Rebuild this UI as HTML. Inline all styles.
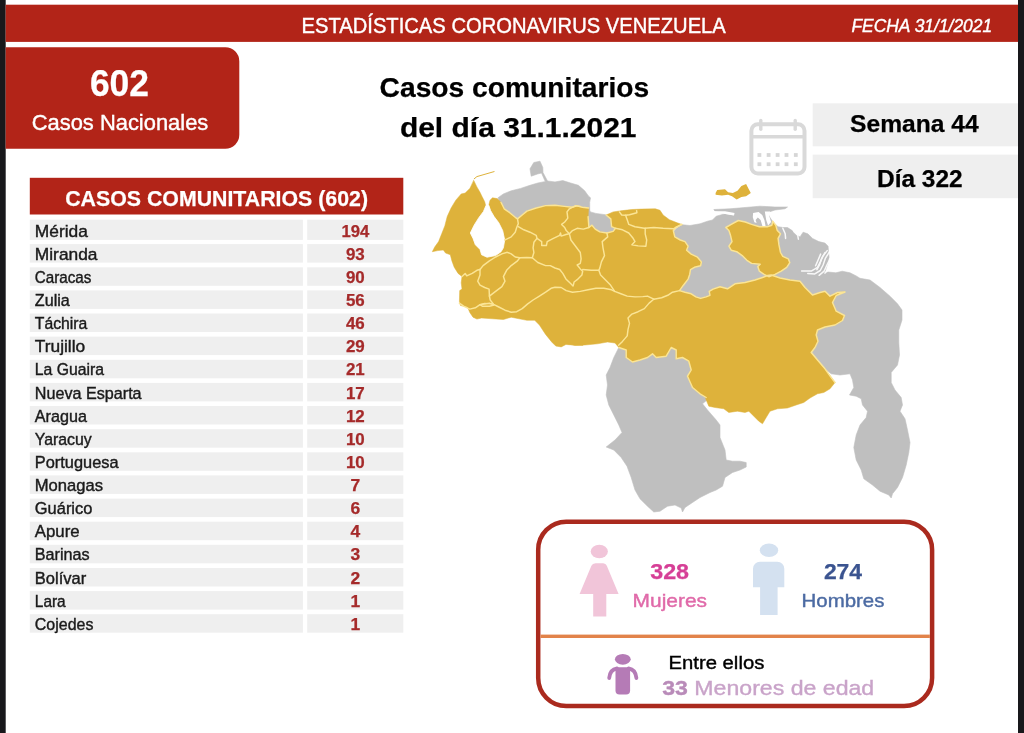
<!DOCTYPE html>
<html lang="es"><head><meta charset="utf-8"><title>Estadísticas Coronavirus Venezuela</title>
<style>
html,body{margin:0;padding:0;background:#fff;}
body{width:1024px;height:733px;overflow:hidden;}
svg{display:block;font-family:'Liberation Sans', Arial, sans-serif;}
</style></head><body>
<svg width="1024" height="733" viewBox="0 0 1024 733">
<rect x="0" y="0" width="1024" height="733" fill="#ffffff"/>
<rect x="0" y="0" width="5.7" height="733" fill="#18181b"/>
<rect x="1018" y="0" width="6" height="733" fill="#18181b"/>
<rect x="5.7" y="4.7" width="1012.3" height="37.2" fill="#b22418"/>
<text x="301.5" y="33.0" font-size="21.2" fill="#ffffff" stroke="#ffffff" stroke-width="0.4" textLength="424.3" lengthAdjust="spacingAndGlyphs">ESTADÍSTICAS CORONAVIRUS VENEZUELA</text>
<text x="851.4" y="31.9" font-size="18.3" fill="#ffffff" stroke="#ffffff" stroke-width="0.4" font-style="italic" textLength="140.8" lengthAdjust="spacingAndGlyphs">FECHA 31/1/2021</text>
<path d="M5.7 47.2H225.3a14 14 0 0 1 14 14V134.8a14 14 0 0 1 -14 14H5.7Z" fill="#b22418"/>
<text x="89.9" y="96.0" font-size="36.2" fill="#ffffff" stroke="#ffffff" stroke-width="0.25" font-weight="bold" textLength="59.1" lengthAdjust="spacingAndGlyphs">602</text>
<text x="31.7" y="130.1" font-size="22.0" fill="#ffffff" stroke="#ffffff" stroke-width="0.4" textLength="176.6" lengthAdjust="spacingAndGlyphs">Casos Nacionales</text>
<text x="379.6" y="96.9" font-size="27.8" fill="#000000" stroke="#000000" stroke-width="0.25" font-weight="bold" textLength="269.6" lengthAdjust="spacingAndGlyphs">Casos comunitarios</text>
<text x="399.9" y="137.4" font-size="27.8" fill="#000000" stroke="#000000" stroke-width="0.25" font-weight="bold" textLength="236.6" lengthAdjust="spacingAndGlyphs">del día 31.1.2021</text>
<rect x="812.7" y="103.3" width="205.3" height="43" fill="#efefef"/>
<rect x="812.7" y="154.6" width="205.3" height="43.6" fill="#efefef"/>
<text x="850.1" y="131.9" font-size="24.6" fill="#000000" stroke="#000000" stroke-width="0.25" font-weight="bold" textLength="128.6" lengthAdjust="spacingAndGlyphs">Semana 44</text>
<text x="877.0" y="187.1" font-size="24.6" fill="#000000" stroke="#000000" stroke-width="0.25" font-weight="bold" textLength="85.7" lengthAdjust="spacingAndGlyphs">Día 322</text>
<g fill="none" stroke="#d9d9d9" stroke-width="4"><rect x="751.4" y="124.3" width="53.1" height="49.2" rx="6.5" ry="6.5"/><line x1="751.4" y1="136.8" x2="804.5" y2="136.8" stroke-width="3.6"/><line x1="760.8" y1="120.4" x2="760.8" y2="129.2" stroke-width="3.4" stroke-linecap="round"/><line x1="795.2" y1="120.4" x2="795.2" y2="129.2" stroke-width="3.4" stroke-linecap="round"/></g>
<g fill="#d6d6d6"><rect x="757.5" y="153.1" width="3.8" height="3.8"/><rect x="766.7" y="153.1" width="3.8" height="3.8"/><rect x="775.7" y="153.1" width="3.8" height="3.8"/><rect x="784.6" y="153.1" width="3.8" height="3.8"/><rect x="793.9" y="153.1" width="3.8" height="3.8"/><rect x="757.5" y="162.3" width="3.8" height="3.8"/><rect x="766.7" y="162.3" width="3.8" height="3.8"/><rect x="775.7" y="162.3" width="3.8" height="3.8"/><rect x="784.6" y="162.3" width="3.8" height="3.8"/><rect x="793.9" y="162.3" width="3.8" height="3.8"/></g>
<rect x="29.8" y="177.8" width="373.5" height="36.7" fill="#b22418"/>
<text x="65.2" y="205.7" font-size="22.3" fill="#ffffff" stroke="#ffffff" stroke-width="0.25" font-weight="bold" textLength="302.8" lengthAdjust="spacingAndGlyphs">CASOS COMUNITARIOS (602)</text>
<g fill="#efefef"><rect x="29.8" y="219.7" width="273.1" height="20.2"/><rect x="307.2" y="219.7" width="96.1" height="20.2"/><rect x="29.8" y="244.1" width="273.1" height="18.5"/><rect x="307.2" y="244.1" width="96.1" height="18.5"/><rect x="29.8" y="267.3" width="273.1" height="18.5"/><rect x="307.2" y="267.3" width="96.1" height="18.5"/><rect x="29.8" y="290.4" width="273.1" height="18.5"/><rect x="307.2" y="290.4" width="96.1" height="18.5"/><rect x="29.8" y="313.5" width="273.1" height="18.5"/><rect x="307.2" y="313.5" width="96.1" height="18.5"/><rect x="29.8" y="336.6" width="273.1" height="18.5"/><rect x="307.2" y="336.6" width="96.1" height="18.5"/><rect x="29.8" y="359.8" width="273.1" height="18.5"/><rect x="307.2" y="359.8" width="96.1" height="18.5"/><rect x="29.8" y="382.9" width="273.1" height="18.5"/><rect x="307.2" y="382.9" width="96.1" height="18.5"/><rect x="29.8" y="406.0" width="273.1" height="18.5"/><rect x="307.2" y="406.0" width="96.1" height="18.5"/><rect x="29.8" y="429.2" width="273.1" height="18.5"/><rect x="307.2" y="429.2" width="96.1" height="18.5"/><rect x="29.8" y="452.3" width="273.1" height="18.5"/><rect x="307.2" y="452.3" width="96.1" height="18.5"/><rect x="29.8" y="475.4" width="273.1" height="18.5"/><rect x="307.2" y="475.4" width="96.1" height="18.5"/><rect x="29.8" y="498.6" width="273.1" height="18.5"/><rect x="307.2" y="498.6" width="96.1" height="18.5"/><rect x="29.8" y="521.7" width="273.1" height="18.5"/><rect x="307.2" y="521.7" width="96.1" height="18.5"/><rect x="29.8" y="544.8" width="273.1" height="18.5"/><rect x="307.2" y="544.8" width="96.1" height="18.5"/><rect x="29.8" y="568.0" width="273.1" height="18.5"/><rect x="307.2" y="568.0" width="96.1" height="18.5"/><rect x="29.8" y="591.1" width="273.1" height="18.5"/><rect x="307.2" y="591.1" width="96.1" height="18.5"/><rect x="29.8" y="614.2" width="273.1" height="18.5"/><rect x="307.2" y="614.2" width="96.1" height="18.5"/></g>
<text x="34.8" y="236.6" font-size="16.3" fill="#1a1a1a" stroke="#1a1a1a" stroke-width="0.4" textLength="53.1" lengthAdjust="spacingAndGlyphs">Mérida</text>
<text x="341.4" y="236.6" font-size="16.0" fill="#a52a2a" stroke="#a52a2a" stroke-width="0.25" font-weight="bold" textLength="27.9" lengthAdjust="spacingAndGlyphs">194</text>
<text x="34.8" y="259.7" font-size="16.3" fill="#1a1a1a" stroke="#1a1a1a" stroke-width="0.4" textLength="62.7" lengthAdjust="spacingAndGlyphs">Miranda</text>
<text x="345.9" y="259.7" font-size="16.0" fill="#a52a2a" stroke="#a52a2a" stroke-width="0.25" font-weight="bold" textLength="18.8" lengthAdjust="spacingAndGlyphs">93</text>
<text x="34.8" y="282.9" font-size="16.3" fill="#1a1a1a" stroke="#1a1a1a" stroke-width="0.4" textLength="56.6" lengthAdjust="spacingAndGlyphs">Caracas</text>
<text x="345.9" y="282.9" font-size="16.0" fill="#a52a2a" stroke="#a52a2a" stroke-width="0.25" font-weight="bold" textLength="18.8" lengthAdjust="spacingAndGlyphs">90</text>
<text x="34.8" y="306.0" font-size="16.3" fill="#1a1a1a" stroke="#1a1a1a" stroke-width="0.4" textLength="35.0" lengthAdjust="spacingAndGlyphs">Zulia</text>
<text x="345.9" y="306.0" font-size="16.0" fill="#a52a2a" stroke="#a52a2a" stroke-width="0.25" font-weight="bold" textLength="18.8" lengthAdjust="spacingAndGlyphs">56</text>
<text x="34.8" y="329.1" font-size="16.3" fill="#1a1a1a" stroke="#1a1a1a" stroke-width="0.4" textLength="52.5" lengthAdjust="spacingAndGlyphs">Táchira</text>
<text x="345.9" y="329.1" font-size="16.0" fill="#a52a2a" stroke="#a52a2a" stroke-width="0.25" font-weight="bold" textLength="18.8" lengthAdjust="spacingAndGlyphs">46</text>
<text x="34.8" y="352.2" font-size="16.3" fill="#1a1a1a" stroke="#1a1a1a" stroke-width="0.4" textLength="50.4" lengthAdjust="spacingAndGlyphs">Trujillo</text>
<text x="345.9" y="352.2" font-size="16.0" fill="#a52a2a" stroke="#a52a2a" stroke-width="0.25" font-weight="bold" textLength="18.8" lengthAdjust="spacingAndGlyphs">29</text>
<text x="34.8" y="375.4" font-size="16.3" fill="#1a1a1a" stroke="#1a1a1a" stroke-width="0.4" textLength="69.3" lengthAdjust="spacingAndGlyphs">La Guaira</text>
<text x="345.9" y="375.4" font-size="16.0" fill="#a52a2a" stroke="#a52a2a" stroke-width="0.25" font-weight="bold" textLength="18.8" lengthAdjust="spacingAndGlyphs">21</text>
<text x="34.8" y="398.5" font-size="16.3" fill="#1a1a1a" stroke="#1a1a1a" stroke-width="0.4" textLength="106.8" lengthAdjust="spacingAndGlyphs">Nueva Esparta</text>
<text x="345.9" y="398.5" font-size="16.0" fill="#a52a2a" stroke="#a52a2a" stroke-width="0.25" font-weight="bold" textLength="18.8" lengthAdjust="spacingAndGlyphs">17</text>
<text x="34.8" y="421.6" font-size="16.3" fill="#1a1a1a" stroke="#1a1a1a" stroke-width="0.4" textLength="52.1" lengthAdjust="spacingAndGlyphs">Aragua</text>
<text x="345.9" y="421.6" font-size="16.0" fill="#a52a2a" stroke="#a52a2a" stroke-width="0.25" font-weight="bold" textLength="18.8" lengthAdjust="spacingAndGlyphs">12</text>
<text x="34.8" y="444.8" font-size="16.3" fill="#1a1a1a" stroke="#1a1a1a" stroke-width="0.4" textLength="57.0" lengthAdjust="spacingAndGlyphs">Yaracuy</text>
<text x="345.9" y="444.8" font-size="16.0" fill="#a52a2a" stroke="#a52a2a" stroke-width="0.25" font-weight="bold" textLength="18.8" lengthAdjust="spacingAndGlyphs">10</text>
<text x="34.8" y="467.9" font-size="16.3" fill="#1a1a1a" stroke="#1a1a1a" stroke-width="0.4" textLength="83.8" lengthAdjust="spacingAndGlyphs">Portuguesa</text>
<text x="345.9" y="467.9" font-size="16.0" fill="#a52a2a" stroke="#a52a2a" stroke-width="0.25" font-weight="bold" textLength="18.8" lengthAdjust="spacingAndGlyphs">10</text>
<text x="34.8" y="491.0" font-size="16.3" fill="#1a1a1a" stroke="#1a1a1a" stroke-width="0.4" textLength="68.2" lengthAdjust="spacingAndGlyphs">Monagas</text>
<text x="350.4" y="491.0" font-size="16.0" fill="#a52a2a" stroke="#a52a2a" stroke-width="0.25" font-weight="bold" textLength="9.7" lengthAdjust="spacingAndGlyphs">7</text>
<text x="34.8" y="514.2" font-size="16.3" fill="#1a1a1a" stroke="#1a1a1a" stroke-width="0.4" textLength="57.6" lengthAdjust="spacingAndGlyphs">Guárico</text>
<text x="350.4" y="514.2" font-size="16.0" fill="#a52a2a" stroke="#a52a2a" stroke-width="0.25" font-weight="bold" textLength="9.7" lengthAdjust="spacingAndGlyphs">6</text>
<text x="34.8" y="537.3" font-size="16.3" fill="#1a1a1a" stroke="#1a1a1a" stroke-width="0.4" textLength="44.9" lengthAdjust="spacingAndGlyphs">Apure</text>
<text x="350.4" y="537.3" font-size="16.0" fill="#a52a2a" stroke="#a52a2a" stroke-width="0.25" font-weight="bold" textLength="9.7" lengthAdjust="spacingAndGlyphs">4</text>
<text x="34.8" y="560.4" font-size="16.3" fill="#1a1a1a" stroke="#1a1a1a" stroke-width="0.4" textLength="54.9" lengthAdjust="spacingAndGlyphs">Barinas</text>
<text x="350.4" y="560.4" font-size="16.0" fill="#a52a2a" stroke="#a52a2a" stroke-width="0.25" font-weight="bold" textLength="9.7" lengthAdjust="spacingAndGlyphs">3</text>
<text x="34.8" y="583.5" font-size="16.3" fill="#1a1a1a" stroke="#1a1a1a" stroke-width="0.4" textLength="51.4" lengthAdjust="spacingAndGlyphs">Bolívar</text>
<text x="350.4" y="583.5" font-size="16.0" fill="#a52a2a" stroke="#a52a2a" stroke-width="0.25" font-weight="bold" textLength="9.7" lengthAdjust="spacingAndGlyphs">2</text>
<text x="34.8" y="606.7" font-size="16.3" fill="#1a1a1a" stroke="#1a1a1a" stroke-width="0.4" textLength="30.9" lengthAdjust="spacingAndGlyphs">Lara</text>
<text x="350.4" y="606.7" font-size="16.0" fill="#a52a2a" stroke="#a52a2a" stroke-width="0.25" font-weight="bold" textLength="9.7" lengthAdjust="spacingAndGlyphs">1</text>
<text x="34.8" y="629.8" font-size="16.3" fill="#1a1a1a" stroke="#1a1a1a" stroke-width="0.4" textLength="58.6" lengthAdjust="spacingAndGlyphs">Cojedes</text>
<text x="350.4" y="629.8" font-size="16.0" fill="#a52a2a" stroke="#a52a2a" stroke-width="0.25" font-weight="bold" textLength="9.7" lengthAdjust="spacingAndGlyphs">1</text>
<g stroke-linejoin="round" stroke-linecap="round">
<g fill="#bfbfbf" stroke="#bfbfbf" stroke-width="0.6">
<polygon points="498.0,197.8 503.4,193.9 511.2,190.8 520.6,188.4 530.0,185.3 537.8,183.0 545.6,181.4 545.0,181.0 541.5,173.0 537.5,174.0 531.2,176.2 530.0,168.8 533.8,162.5 540.0,161.2 542.8,167.5 543.0,172.5 547.5,181.0 555.0,181.9 562.8,180.6 570.6,183.0 578.4,185.3 584.7,190.8 588.6,196.2 590.5,197.8 589.7,202.5 589.7,210.3 575.6,211.9 555.0,211.9 523.8,221.2 514.4,219.7 503.4,210.3 499.5,202.5"/>
<polygon points="588.1,207.2 590.5,211.9 595.9,213.4 605.3,214.7 606.9,215.3 612.3,218.9 613.1,226.7 616.2,228.3 613.1,232.2 606.9,233.8 599.8,233.0 595.2,229.8 592.0,226.7 588.1,228.3 587.3,216.6"/>
<polygon points="680.3,224.7 680.0,224.5 690.0,225.5 700.0,223.8 707.5,221.2 712.5,220.0 716.2,216.2 725.0,213.8 715.0,211.2 713.8,209.5 730.0,208.8 745.0,207.5 760.0,206.2 775.0,207.0 787.5,207.0 785.0,208.8 775.0,210.0 767.5,212.5 770.0,217.5 773.4,222.8 778.1,226.7 782.8,227.5 787.5,227.5 792.2,230.6 796.9,235.3 800.0,236.9 803.1,232.2 807.8,233.8 812.5,238.4 818.8,241.6 825.0,243.1 828.1,246.2 828.4,250.9 829.1,257.2 827.8,263.4 825.9,268.9 825.0,272.8 828.1,272.0 835.9,272.8 842.2,271.2 850.0,272.8 856.2,275.9 860.0,278.3 870.0,280.0 880.0,287.5 890.0,296.2 897.5,303.8 902.0,310.0 902.0,320.0 898.8,330.0 898.8,342.5 899.5,355.0 897.5,365.0 891.2,372.5 891.2,382.5 895.0,390.0 901.2,397.5 902.5,405.0 900.0,411.2 905.0,418.8 907.5,430.0 910.0,442.5 908.8,452.5 906.2,465.0 902.5,477.5 897.5,487.5 892.5,493.8 891.2,498.0 888.8,495.0 880.0,491.2 872.5,485.0 863.8,478.8 861.2,470.0 856.2,460.0 853.8,447.5 856.2,435.0 860.0,425.0 866.2,417.5 867.5,411.2 862.5,405.0 861.2,398.8 856.2,396.2 849.5,395.0 853.8,387.5 852.5,380.0 850.0,373.8 840.0,375.0 831.2,373.8 825.0,368.8 810.0,350.0 810.0,305.0 775.0,290.0 725.0,295.0 695.0,302.5 677.5,292.5 685.0,270.0 670.0,235.0"/>
<polygon points="618.8,347.5 613.8,357.5 610.0,367.5 606.2,375.0 607.5,385.0 606.2,395.0 608.8,405.0 613.8,415.0 618.8,425.0 622.0,432.5 615.0,440.0 606.2,447.0 613.8,450.0 621.2,457.5 627.0,466.2 631.2,477.5 635.0,490.0 640.0,498.8 647.5,506.2 653.8,512.0 660.0,511.2 667.5,506.2 675.0,505.0 681.2,508.0 682.5,512.0 685.0,507.5 692.5,502.5 700.0,497.5 710.0,492.5 716.2,490.0 722.5,486.2 725.0,477.5 732.5,472.5 740.0,470.0 746.2,467.0 746.2,462.5 740.0,461.2 732.5,461.2 726.2,460.0 725.0,450.0 720.0,437.5 720.0,425.0 716.2,420.0 707.5,410.0 702.5,403.8 710.0,397.5 700.0,387.5 695.0,370.0 690.0,355.0 670.0,342.5 635.0,345.0 622.5,340.0"/>
</g>
<g fill="#ffffff" stroke="none"><polygon points="753.1,213.1 758.6,211.9 762.2,215.0 764.4,220.0 765.6,226.2 762.5,226.2 760.6,220.0 757.8,217.5 755.6,220.0 756.6,223.1 754.4,222.2 752.8,217.3"/><polygon points="764.8,211.6 770.0,211.6 769.4,216.6 771.1,221.9 768.1,225.6 766.2,220.0"/><polygon points="714.8,211.2 725.0,211.2 734.7,213.1 733.6,215.3 723.4,213.8 715.6,213.1"/></g>
<g fill="none" stroke="#ffffff" stroke-width="1.5" opacity="0.9"><polyline points="827.2,250.6 822.7,256.4 820.3,261.9 817.5,267.3 811.7,270.9 801.6,270.9"/><polyline points="829.4,251.9 825.3,258.4 823.1,265.0 820.3,270.5 814.8,273.9 807.8,273.4"/><polyline points="830.0,258.8 826.9,265.0 824.1,271.2 819.1,275.3"/><polyline points="820.6,254.1 818.0,260.3 815.6,265.8"/><polyline points="825.0,252.5 821.6,258.8 819.5,265.0 816.9,269.7"/><polyline points="830.6,265.0 828.1,269.7 825.0,273.1"/><polyline points="782.8,228.3 785.2,233.8 785.6,238.4"/><polyline points="793.8,231.4 797.7,235.3 798.4,239.2"/><polyline points="714.1,212.2 723.4,212.8 733.6,214.7"/></g>
<polygon points="473.8,180.6 476.9,186.9 480.0,192.3 481.9,196.2 484.7,201.7 485.9,206.4 485.0,209.5 489.4,209.5 488.9,204.8 490.0,200.2 492.5,197.8 497.2,198.6 501.1,202.5 504.2,208.8 509.7,212.7 515.2,217.3 517.5,218.9 522.2,215.0 526.9,211.1 536.2,208.0 545.6,205.6 555.0,205.3 564.4,206.4 572.2,207.2 576.9,205.9 582.3,207.2 588.6,208.0 588.1,216.6 588.9,227.5 592.0,225.2 595.2,229.1 599.8,231.9 606.9,233.0 613.1,231.4 615.5,228.3 611.6,226.7 610.8,218.9 606.1,215.0 613.1,211.9 622.5,210.6 631.9,209.5 641.2,209.1 655.3,208.8 660.0,210.3 663.1,215.0 669.4,219.7 677.2,222.8 681.9,224.4 675.6,227.5 673.3,230.6 674.8,236.9 680.3,240.0 685.0,241.6 688.1,246.2 686.6,250.2 691.2,254.1 697.5,257.2 701.4,261.9 700.6,265.8 694.4,267.3 690.5,269.7 689.7,274.4 688.1,279.1 683.4,285.2 679.5,290.6 685.0,292.2 691.2,293.8 695.9,296.9 700.6,298.4 706.1,296.9 710.0,295.3 709.2,291.4 713.1,289.1 720.0,286.7 727.5,288.8 735.0,283.8 745.0,282.5 755.0,280.0 762.5,277.5 767.5,275.5 771.2,275.0 780.0,278.0 790.0,280.0 800.0,281.2 805.0,287.5 812.5,295.0 820.0,292.5 825.0,291.2 830.0,296.2 837.5,292.5 845.0,292.0 836.2,295.5 832.5,302.5 836.2,311.2 844.5,315.5 842.5,320.5 835.0,325.0 825.0,327.0 817.5,330.0 816.2,335.0 818.0,341.2 815.0,347.5 811.2,352.5 817.5,360.0 825.0,368.8 831.2,377.5 835.0,382.5 830.0,388.8 823.8,392.5 817.5,393.8 810.0,398.0 803.8,402.5 796.2,405.0 787.5,408.0 777.5,408.8 770.0,411.2 766.2,417.5 762.5,423.8 758.8,421.2 753.8,416.2 748.8,411.2 745.0,412.5 737.5,411.2 728.8,412.5 723.8,408.8 715.0,407.5 708.8,406.2 706.2,400.0 705.0,396.2 706.2,397.5 700.0,393.8 692.5,387.5 687.5,376.2 691.2,370.0 688.8,361.2 682.5,357.5 676.2,358.8 676.2,350.0 671.2,347.5 666.2,356.2 656.2,357.5 652.5,353.8 647.5,357.5 640.0,360.0 632.5,362.0 626.2,357.5 626.2,350.0 618.8,347.5 615.0,343.0 607.5,342.0 597.5,343.8 585.0,345.0 575.0,345.5 567.5,343.8 583.1,345.3 573.8,345.0 565.9,344.5 561.2,346.9 555.8,346.1 551.9,342.2 545.6,334.4 539.4,325.0 534.7,320.3 526.9,320.3 519.1,318.8 511.2,317.2 503.4,319.5 492.5,318.8 481.6,318.0 476.9,319.1 473.0,317.2 469.8,312.5 467.5,307.0 460.5,305.5 459.4,301.6 459.7,290.6 462.0,289.1 461.2,282.8 462.0,276.6 458.1,273.4 454.2,267.2 451.9,260.9 450.3,254.7 445.6,253.1 443.3,250.0 437.8,250.6 432.3,251.7 434.7,247.0 438.6,241.6 441.7,233.8 444.8,225.9 447.2,216.6 451.1,208.0 455.8,200.2 461.2,193.9 465.2,193.1 469.8,188.4" fill="#deb23b" stroke="#deb23b" stroke-width="0.5"/>
<polygon points="725.8,227.5 731.2,224.4 738.3,220.5 745.3,222.0 751.6,224.4 759.4,226.7 767.2,226.7 771.9,225.2 772.7,221.2 775.8,225.2 777.3,230.6 780.5,233.8 778.1,238.4 778.9,244.7 780.5,252.5 782.8,256.4 788.3,258.8 789.8,262.7 786.7,267.3 781.2,271.2 775.0,274.4 768.8,276.7 764.1,274.4 759.4,271.2 757.8,266.6 760.2,264.2 751.6,263.4 746.9,260.3 742.2,255.6 736.7,251.7 731.2,250.2 728.9,246.2 732.0,241.6 730.5,235.3 728.9,230.6" fill="#deb23b" stroke="#fbe596" stroke-width="1.45"/>
<polygon points="715.6,193.1 717.2,190.0 725.0,189.2 728.1,192.3 732.8,193.1 737.5,190.8 741.4,186.1 746.1,184.1 748.4,188.4 750.8,193.1 746.1,196.2 741.4,197.0 736.7,199.4 732.0,196.2 728.1,194.7 721.9,195.5 715.6,194.7" fill="#deb23b"/>
<polygon points="485.8,205.9 483.4,211.6 478.8,217.7 474.1,225.2 470.3,233.0 473.0,238.4 475.3,244.7 480.0,249.4 481.6,254.8 487.0,257.2 495.6,255.6 501.1,251.7 503.4,247.8 504.7,240.0 502.7,230.6 498.8,222.8 494.1,216.6 490.6,210.6 488.9,205.6" fill="#ffffff" stroke="#ffffff" stroke-width="0.8"/>
<polyline points="474.2,178.8 476.9,176.6 494.1,171.6" fill="none" stroke="#deb23b" stroke-width="1"/>
<g fill="none" stroke="#fbe596" stroke-width="1.45"><polyline points="517.5,218.9 518.3,223.6 516.7,227.5 515.2,232.2 511.2,236.9 506.6,239.2 504.7,240.0"/><polyline points="518.3,226.7 523.8,229.8 530.0,232.2 536.2,235.3 537.0,238.4 533.9,242.3 533.1,247.8 533.9,252.5 532.3,257.8"/><polyline points="480.0,269.5 483.1,265.6 489.4,260.9 495.6,257.0 501.9,253.9 507.3,252.3 511.2,253.9 515.2,257.0 519.8,257.8 526.9,257.5 532.3,257.8 537.8,262.5 545.6,265.6 550.3,265.6 555.0,268.0 559.7,269.5 562.8,273.4 565.9,278.9 570.6,283.6 573.0,285.9"/><polyline points="462.0,276.6 465.2,273.4 466.7,275.8 472.2,273.4 476.9,270.3 480.0,269.5"/><polyline points="480.0,269.5 480.0,275.0 477.7,281.2 480.0,285.2 484.7,287.5 489.1,289.1 489.4,296.1 490.2,300.0 493.3,303.9"/><polyline points="489.4,296.1 495.6,291.4 501.9,286.7 505.0,281.2 503.4,276.6 506.6,270.3 511.2,265.6 517.5,260.9 519.8,257.8"/><polyline points="459.4,303.1 463.6,306.2 469.8,309.1 475.3,307.8 480.0,304.7 489.4,303.1 494.1,304.7 498.8,307.0 505.0,310.2 511.2,312.2 516.7,311.7 522.2,308.6 527.7,303.9 533.1,300.0 539.4,296.1 545.6,292.2 551.1,288.3 555.0,287.2 561.2,287.5 566.2,290.6 572.5,292.2 580.3,291.4 588.1,289.8 595.9,288.3 603.8,288.3 611.6,289.8 614.7,291.4 620.9,293.8 627.2,296.1 635.0,296.9 642.8,296.6 647.5,296.1 653.8,299.2"/><polyline points="480.0,304.7 484.7,303.4 491.7,303.9 494.1,305.0 489.4,306.2 482.3,306.2 480.0,304.7"/><polyline points="537.0,238.4 541.7,241.6 541.7,245.5 546.4,245.5 547.2,241.6 553.4,238.4 559.7,235.3 560.5,233.0 561.2,236.1 565.9,234.5 569.1,233.8"/><polyline points="580.3,206.4 575.6,205.6 569.4,208.8 567.0,211.9 567.8,218.1 564.7,222.0 561.6,224.4 564.7,227.5 566.2,230.6 569.4,233.8"/><polyline points="588.9,227.5 583.4,229.1 577.2,228.3 572.5,230.6 569.4,233.8 570.9,240.0 575.6,246.2 580.3,252.5 581.1,258.8 580.3,263.4 577.2,265.0 580.3,268.9 582.7,271.2 581.9,275.0 577.2,279.7 574.1,282.0 573.3,285.2"/><polyline points="582.7,269.5 591.2,270.3 598.8,270.3 600.6,275.0 605.3,279.7 610.0,284.4 614.7,291.4"/><polyline points="606.9,233.0 607.7,236.9 602.2,241.6 603.0,247.8 604.5,255.6 601.4,261.9 599.8,268.1 598.8,270.3"/><polyline points="653.8,299.2 649.1,303.1 644.4,308.6 638.1,311.7 631.9,314.1 628.0,318.0 629.5,323.4 628.0,329.7 627.2,335.9 622.5,341.4 618.6,345.3"/><polyline points="653.8,299.2 661.6,297.7 667.8,295.3 672.5,292.2 679.5,290.6"/><polyline points="619.4,211.9 621.7,215.0 625.6,215.3 627.2,219.7 628.8,224.4 635.0,226.7 644.4,228.3 653.8,227.5 663.1,228.3 673.3,228.8 681.9,224.4"/><polyline points="625.6,215.3 629.5,214.7 636.9,212.7 636.6,210.6"/><polyline points="615.5,228.3 622.5,229.8 628.8,233.0 632.7,237.7 635.0,241.6 631.9,244.7 638.1,245.9 645.9,246.2 646.7,240.0 645.2,233.8 645.2,228.3"/><polyline points="501.1,202.5 504.2,208.8 509.7,212.7 515.2,217.3 517.5,218.9 522.2,215.0 526.9,211.1 536.2,208.0 545.6,205.6 555.0,205.3 564.4,206.4 572.2,207.2 576.9,205.9 582.3,207.2 588.6,208.0"/><polyline points="588.1,216.6 588.9,227.5 592.0,225.2 595.2,229.1 599.8,231.9 606.9,233.0 613.1,231.4 615.5,228.3 611.6,226.7 610.8,218.9 606.1,215.0"/><polyline points="681.9,224.4 675.6,227.5 673.3,230.6 674.8,236.9 680.3,240.0 685.0,241.6 688.1,246.2 686.6,250.2 691.2,254.1 697.5,257.2 701.4,261.9 700.6,265.8 694.4,267.3 690.5,269.7 689.7,274.4 688.1,279.1 683.4,285.2 679.5,290.6 685.0,292.2 691.2,293.8 695.9,296.9 700.6,298.4 706.1,296.9 710.0,295.3 709.2,291.4 713.1,289.1 720.0,286.7 727.5,288.8 735.0,283.8 745.0,282.5 755.0,280.0 762.5,277.5 767.5,275.5 771.2,275.0 780.0,278.0 790.0,280.0 800.0,281.2 805.0,287.5 812.5,295.0 820.0,292.5 825.0,291.2 830.0,296.2 837.5,292.5 845.0,292.0 836.2,295.5 832.5,302.5 836.2,311.2 844.5,315.5 842.5,320.5 835.0,325.0 825.0,327.0 817.5,330.0 816.2,335.0 818.0,341.2 815.0,347.5 811.2,352.5 817.5,360.0 825.0,368.8 831.2,377.5 835.0,382.5"/><polyline points="706.2,397.5 700.0,393.8 692.5,387.5 687.5,376.2 691.2,370.0 688.8,361.2 682.5,357.5 676.2,358.8 676.2,350.0 671.2,347.5 666.2,356.2 656.2,357.5 652.5,353.8 647.5,357.5 640.0,360.0 632.5,362.0 626.2,357.5 626.2,350.0 618.8,347.5"/></g>
</g>
<rect x="538.2" y="521.7" width="393.9" height="184.3" rx="28" ry="28" fill="#ffffff" stroke="#aa2a1e" stroke-width="4.5"/>
<rect x="540.4" y="634.6" width="389.5" height="3.4" fill="#e2834a"/>
<g fill="#f1c5d9"><ellipse cx="599.3" cy="551.5" rx="8.6" ry="6.8"/><path d="M595.6 563.2h7.6q2.6 0 3.6 2.6l11.8 28.2h-12.3v22.5h-13.1v-22.5h-13.6l11.8-28.2q1-2.6 4.2-2.6z"/></g>
<g fill="#d4e1f0"><ellipse cx="769" cy="550.3" rx="9.2" ry="6.8"/><path d="M760 561.8h17.3a7 7 0 0 1 7 7v18.4h-6.7v27.9h-17.5v-27.9h-7.1v-18.4a7 7 0 0 1 7-7z"/></g>
<text x="650.2" y="579.0" font-size="21.6" fill="#d63f96" stroke="#d63f96" stroke-width="0.25" font-weight="bold" textLength="38.9" lengthAdjust="spacingAndGlyphs">328</text>
<text x="632.6" y="607.3" font-size="18.5" fill="#e06aa9" stroke="#e06aa9" stroke-width="0.4" textLength="74.4" lengthAdjust="spacingAndGlyphs">Mujeres</text>
<text x="823.9" y="579.0" font-size="21.6" fill="#3b5490" stroke="#3b5490" stroke-width="0.25" font-weight="bold" textLength="38.2" lengthAdjust="spacingAndGlyphs">274</text>
<text x="801.6" y="607.3" font-size="18.5" fill="#4c6ba3" stroke="#4c6ba3" stroke-width="0.4" textLength="82.8" lengthAdjust="spacingAndGlyphs">Hombres</text>
<g fill="#b57bb6"><ellipse cx="622.8" cy="659.3" rx="7.9" ry="5.4"/><path d="M618.5 667.3h8.6q3 0 3 3v20.2q0 4-4 4h-6.6q-4 0-4-4v-20.2q0-3 3-3z"/><path d="M617 668.5q-7 1-7.8 9.5" fill="none" stroke="#b57bb6" stroke-width="3.8" stroke-linecap="round"/><path d="M628.6 668.5q7 1 7.8 9.5" fill="none" stroke="#b57bb6" stroke-width="3.8" stroke-linecap="round"/></g>
<text x="668.5" y="669.0" font-size="19.2" fill="#000000" stroke="#000000" stroke-width="0.4" textLength="95.8" lengthAdjust="spacingAndGlyphs">Entre ellos</text>
<text x="662.2" y="694.5" font-size="20.8" fill="#c9a3c9" stroke="#c9a3c9" stroke-width="0.35" textLength="212" lengthAdjust="spacingAndGlyphs"><tspan font-weight="bold" fill="#b98bb9" stroke="#b98bb9">33</tspan> Menores de edad</text>
</svg>
</body></html>
